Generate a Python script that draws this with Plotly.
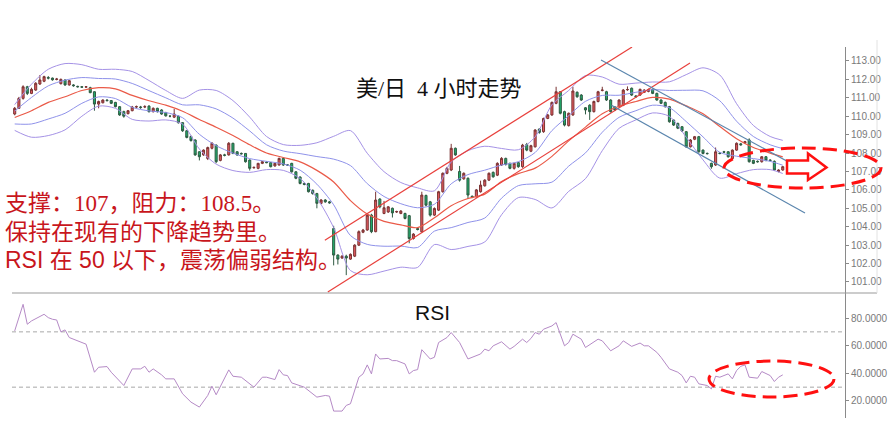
import plotly.graph_objects as go

W, H = 893, 445

# ---------------- data ----------------
candle_open = [
    110.12, 110.43, 110.97, 111.60, 111.24, 111.42, 111.75, 111.90, 112.10, 112.07,
    112.00, 111.77, 111.97, 111.70, 111.70, 111.62, 111.60, 111.58, 111.55, 111.33,
    110.66, 110.73, 110.88, 110.85, 110.75, 110.52, 110.25, 110.14, 110.30, 110.50,
    110.50, 110.50, 110.55, 110.25, 110.43, 110.34, 110.20, 110.00, 109.95, 110.00,
    109.65, 109.21, 108.90, 108.71, 108.07, 107.90, 107.70, 108.26, 108.43, 107.60,
    107.90, 107.90, 108.53, 108.07, 107.98, 107.98, 107.62, 107.20, 107.17, 107.44,
    107.50, 107.48, 107.30, 107.35, 107.71, 107.35, 107.44, 106.98, 106.70, 106.35,
    106.35, 105.98, 105.80, 105.27, 105.45, 105.35, 103.90, 102.46, 102.30, 102.40,
    102.24, 102.40, 103.00, 103.70, 103.82, 104.63, 103.73, 105.50, 104.72, 104.80,
    105.00, 104.80, 104.72, 104.72, 104.60, 103.36, 103.90, 103.72, 105.70, 105.35,
    104.63, 104.90, 105.90, 106.90, 107.08, 108.26, 107.00, 106.60, 106.63, 105.65,
    105.63, 105.90, 106.22, 106.53, 106.95, 106.80, 107.35, 107.71, 107.44, 107.17,
    107.48, 107.26, 108.46, 108.10, 108.34, 109.30, 109.16, 109.88, 110.07, 110.70,
    111.33, 110.25, 109.49, 110.07, 111.30, 111.15, 110.46, 110.60, 110.25, 110.80,
    111.40, 111.33, 110.88, 110.50, 110.52, 110.60, 111.44, 111.52, 111.10, 111.15,
    111.30, 111.35, 111.46, 111.24, 110.88, 110.75, 110.52, 109.79, 109.61, 109.43,
    109.16, 108.34, 108.75, 108.89, 108.16, 107.98, 107.44, 107.35, 108.00, 108.07,
    108.07, 107.70, 108.16, 108.50, 108.55, 108.71, 107.60, 107.55, 107.53, 107.80,
    107.62, 107.55, 107.00, 107.08]

candle_close = [
    110.43, 110.97, 111.60, 111.24, 111.46, 111.79, 111.97, 112.15, 112.07, 111.98,
    112.02, 112.00, 111.70, 111.93, 111.66, 111.60, 111.58, 111.60, 111.28, 110.66,
    110.80, 110.88, 110.85, 110.70, 110.52, 110.07, 110.00, 110.30, 110.50, 110.52,
    110.48, 110.52, 110.25, 110.43, 110.25, 110.12, 110.02, 110.00, 110.12, 109.65,
    109.21, 108.85, 108.68, 107.90, 107.80, 108.16, 108.30, 108.53, 107.53, 107.90,
    107.88, 108.53, 107.98, 107.90, 107.96, 107.53, 107.17, 107.22, 107.44, 107.53,
    107.48, 107.26, 107.44, 107.71, 107.35, 107.35, 106.98, 106.63, 106.35, 106.30,
    105.90, 105.80, 105.27, 105.45, 105.35, 105.30, 102.46, 102.24, 102.40, 102.30,
    102.50, 103.00, 103.73, 103.82, 104.63, 103.73, 105.45, 105.08, 105.03, 105.08,
    104.75, 104.82, 104.85, 104.45, 103.36, 103.60, 103.85, 105.72, 105.17, 104.63,
    104.99, 105.90, 106.90, 107.17, 108.26, 107.90, 106.53, 106.90, 105.72, 105.60,
    106.00, 106.26, 106.53, 106.90, 106.71, 107.44, 107.71, 107.38, 107.17, 107.44,
    107.26, 108.43, 108.16, 108.40, 109.25, 109.12, 109.88, 110.07, 110.75, 111.33,
    110.16, 109.52, 110.16, 111.37, 111.06, 110.88, 110.34, 110.25, 110.80, 111.33,
    111.42, 110.88, 110.25, 110.34, 110.88, 111.42, 111.45, 111.15, 111.06, 111.46,
    111.42, 111.45, 111.24, 110.88, 110.70, 110.52, 109.70, 109.52, 109.35, 109.20,
    108.34, 108.71, 108.89, 108.07, 107.98, 107.97, 107.26, 108.07, 107.98, 108.05,
    107.80, 108.16, 108.53, 108.45, 108.62, 107.53, 107.44, 107.53, 107.80, 107.60,
    107.60, 107.08, 107.08, 107.26]

candle_high = [
    110.50, 111.05, 111.68, 111.65, 111.55, 111.85, 112.24, 112.20, 112.18, 112.10,
    112.08, 112.05, 112.00, 111.97, 111.74, 111.66, 111.63, 111.64, 111.60, 111.35,
    110.85, 110.92, 110.92, 110.88, 110.78, 110.55, 110.30, 110.34, 110.56, 110.58,
    110.56, 110.60, 110.60, 110.48, 110.46, 110.38, 110.24, 110.06, 110.40, 110.04,
    109.68, 109.25, 108.95, 108.75, 108.10, 108.20, 108.35, 108.60, 108.47, 107.95,
    107.96, 108.60, 108.56, 108.10, 108.03, 108.00, 107.65, 107.27, 107.47, 107.57,
    107.55, 107.52, 107.48, 107.75, 107.74, 107.40, 107.47, 107.02, 106.73, 106.40,
    106.38, 106.02, 105.84, 105.50, 105.50, 105.40, 104.05, 102.50, 102.46, 102.48,
    102.55, 103.05, 103.80, 103.88, 104.68, 104.70, 105.90, 105.55, 105.40, 105.12,
    105.04, 104.87, 104.90, 104.76, 104.64, 103.65, 103.96, 105.90, 105.74, 105.40,
    105.05, 105.95, 106.95, 107.25, 108.50, 108.30, 107.30, 106.95, 106.68, 105.70,
    106.05, 106.50, 106.58, 106.95, 107.00, 107.50, 107.78, 107.75, 107.48, 107.48,
    107.52, 108.50, 108.55, 108.45, 109.30, 109.35, 109.92, 110.12, 110.80, 111.60,
    111.37, 110.30, 110.20, 111.60, 111.35, 111.20, 110.50, 110.65, 110.85, 111.38,
    111.60, 111.38, 110.92, 110.55, 110.92, 111.48, 111.62, 111.56, 111.15, 111.50,
    111.47, 111.50, 111.50, 111.28, 110.92, 110.80, 110.56, 109.83, 109.65, 109.47,
    109.20, 108.76, 108.93, 108.93, 108.20, 108.03, 107.48, 108.30, 108.05, 108.12,
    108.10, 108.20, 108.58, 108.55, 108.66, 108.80, 107.64, 107.60, 107.84, 107.84,
    107.66, 107.60, 107.12, 107.30]

candle_low = [
    110.05, 110.40, 110.90, 111.15, 111.20, 111.38, 111.70, 111.85, 112.00, 111.93,
    111.95, 111.72, 111.65, 111.66, 111.60, 111.56, 111.55, 111.55, 111.25, 110.30,
    110.43, 110.70, 110.80, 110.66, 110.48, 110.02, 109.92, 110.10, 110.27, 110.42,
    110.40, 110.44, 110.20, 110.20, 110.20, 110.08, 109.98, 109.94, 109.90, 109.60,
    109.15, 108.80, 108.62, 107.85, 107.60, 107.85, 107.62, 108.20, 107.45, 107.55,
    107.82, 107.86, 107.94, 107.85, 107.92, 107.48, 107.05, 107.15, 107.12, 107.40,
    107.45, 107.22, 107.26, 107.32, 107.30, 107.30, 106.94, 106.58, 106.30, 106.25,
    105.86, 105.74, 105.00, 105.22, 105.30, 105.25, 101.90, 101.95, 102.25, 101.37,
    102.20, 102.35, 102.95, 103.65, 103.78, 103.65, 103.70, 105.00, 104.68, 104.75,
    104.50, 104.75, 104.68, 104.40, 103.10, 103.30, 103.80, 103.68, 105.10, 104.55,
    104.58, 104.85, 105.85, 106.85, 107.02, 107.85, 106.45, 106.55, 105.50, 105.55,
    105.58, 105.85, 106.18, 106.48, 106.66, 106.75, 107.30, 107.32, 107.12, 107.10,
    107.20, 107.20, 108.10, 108.05, 108.30, 109.05, 109.10, 109.84, 110.02, 110.65,
    110.10, 109.45, 109.44, 110.02, 111.00, 110.83, 110.10, 109.80, 110.20, 110.75,
    111.35, 110.83, 110.20, 110.28, 110.47, 110.55, 111.38, 111.10, 111.00, 111.10,
    111.26, 111.30, 111.20, 110.84, 110.66, 110.47, 109.65, 109.47, 109.30, 109.15,
    108.28, 108.30, 108.70, 108.02, 107.93, 107.92, 107.15, 107.30, 107.93, 108.00,
    107.75, 107.65, 108.12, 108.40, 108.50, 107.48, 107.40, 107.48, 107.48, 107.55,
    107.55, 107.03, 106.95, 107.04]

# Moving average and Bollinger band lines, read at every 4th bar
band_idx = [0, 4, 8, 12, 16, 20, 24, 28, 32, 36, 40, 44, 48, 52, 56, 60, 64, 68, 72, 76,
            80, 84, 88, 92, 96, 100, 104, 108, 112, 116, 120, 124, 128, 132, 136, 140,
            144, 148, 152, 156, 160, 164, 168, 172, 176, 180, 183]
ma20 = [109.93, 110.30, 110.75, 111.06, 111.40, 111.55, 111.49, 111.13, 110.84, 110.60,
        110.27, 109.82, 109.40, 108.95, 108.45, 108.00, 107.76, 107.52, 107.06, 106.43,
        105.42, 104.69, 104.29, 104.10, 103.95, 104.49, 105.14, 105.53, 105.77, 106.45,
        106.88, 107.18, 107.82, 108.66, 109.41, 110.13, 110.54, 110.80, 111.02, 110.93,
        110.56, 110.13, 109.44, 108.78, 108.30, 108.00, 107.79]
bb_upper2 = [110.63, 111.74, 112.55, 112.86, 112.80, 112.55, 112.55, 112.43, 111.94, 111.40,
             110.97, 111.42, 111.40, 110.85, 109.95, 108.90, 108.46, 108.42, 108.56, 108.91,
             109.22, 107.99, 106.99, 106.40, 106.11, 105.95, 107.52, 108.13, 108.37, 108.25,
             108.18, 108.88, 110.62, 111.40, 112.21, 112.13, 111.74, 111.80, 111.86, 111.87,
             112.26, 112.63, 112.24, 110.68, 109.50, 108.90, 108.69]
bb_upper1 = [110.28, 111.02, 111.65, 111.96, 112.10, 112.05, 112.02, 111.78, 111.39, 111.00,
             110.62, 110.62, 110.40, 109.90, 109.20, 108.45, 108.11, 107.97, 107.81, 107.67,
             107.32, 106.34, 105.64, 105.25, 105.03, 105.22, 106.33, 106.83, 107.07, 107.35,
             107.53, 108.03, 109.22, 110.03, 110.81, 111.13, 111.14, 111.30, 111.44, 111.40,
             111.41, 111.38, 110.84, 109.73, 108.90, 108.45, 108.24]
bb_lower1 = [109.58, 109.58, 109.85, 110.16, 110.70, 111.05, 110.96, 110.48, 110.29, 110.20,
             109.92, 109.02, 108.40, 108.00, 107.70, 107.55, 107.41, 107.07, 106.31, 105.19,
             103.52, 103.04, 102.94, 102.95, 102.87, 103.76, 103.95, 104.23, 104.47, 105.55,
             106.23, 106.33, 106.42, 107.29, 108.01, 109.13, 109.94, 110.30, 110.60, 110.46,
             109.71, 108.88, 108.04, 107.83, 107.70, 107.55, 107.34]
bb_lower2 = [109.23, 108.86, 108.95, 109.26, 110.00, 110.55, 110.43, 109.83, 109.74, 109.80,
             109.57, 108.22, 107.40, 107.05, 106.95, 107.10, 107.06, 106.62, 105.56, 103.95,
             101.62, 101.39, 101.59, 101.80, 101.79, 103.03, 102.76, 102.93, 103.17, 104.65,
             105.58, 105.48, 105.02, 105.92, 106.61, 108.13, 109.34, 109.80, 110.18, 109.99,
             108.86, 107.63, 106.64, 106.88, 107.10, 107.10, 106.89]

# Hand-drawn trend channels (bar index, price)
up_channel_top_x, up_channel_top_y = [73.9, 147.1], [103.27, 113.76]
up_channel_bot_x, up_channel_bot_y = [74.6, 160.9], [100.45, 112.89]
down_channel_top_x, down_channel_top_y = [139.7, 187.1], [113.05, 107.18]
down_channel_bot_x, down_channel_bot_y = [142.2, 188.3], [110.60, 104.74]

rsi_idx = [0, 2, 3, 4, 7, 8, 9, 10, 11, 12, 13, 15, 17, 19, 20, 22, 23, 26, 28, 30,
           31, 32, 33, 35, 36, 38, 40, 42, 44, 46, 47, 48, 49, 51, 52, 54, 57, 59, 60, 62,
           63, 64, 65, 66, 69, 71, 72, 74, 75, 76, 78, 79, 80, 82, 83, 84, 85, 86, 87, 89,
           90, 91, 93, 94, 95, 96, 97, 99, 100, 101, 103, 104, 106, 108, 111, 112, 113, 114, 116, 118,
           119, 121, 122, 123, 124, 125, 126, 128, 129, 131, 132, 133, 135, 136, 139, 140, 142, 144, 145, 147,
           149, 150, 151, 153, 154, 156, 158, 159, 160, 161, 162, 163, 165, 166, 167, 168, 170, 171, 172, 173,
           174, 175, 177, 178, 180, 181, 182, 183]
rsi_val = [70.7, 89.9, 75.5, 77.9, 82.7, 80.3, 79.1, 78.6, 70.0, 71.4,
           65.9, 63.5, 61.1, 40.8, 44.4, 44.9, 40.8, 31.2, 43.2, 43.2,
           45.1, 40.8, 43.2, 38.9, 36.0, 36.0, 25.2, 19.2, 15.6, 24.0,
           30.7, 24.5, 30.7, 42.5, 37.9, 37.2, 30.0, 37.2, 37.2, 35.5,
           42.7, 38.9, 38.4, 33.1, 30.0, 25.2, 22.8, 24.0, 23.5, 12.7,
           12.7, 16.8, 18.0, 37.2, 39.6, 46.1, 39.6, 54.0, 50.4, 50.8,
           49.2, 49.2, 46.8, 39.6, 42.0, 42.7, 57.1, 50.4, 51.6, 62.3,
           65.9, 69.5, 62.3, 50.4, 54.0, 57.5, 56.3, 59.9, 62.8, 57.5,
           59.5, 64.7, 62.3, 65.2, 69.5, 68.3, 71.9, 74.3, 76.7, 59.9,
           62.3, 68.3, 64.7, 58.7, 64.7, 63.5, 56.3, 59.9, 63.5, 59.5,
           61.9, 59.9, 59.9, 55.2, 51.6, 43.2, 40.8, 38.4, 33.1, 37.9,
           37.2, 32.4, 31.2, 28.8, 37.9, 37.2, 39.6, 36.0, 42.0, 45.1,
           46.1, 37.2, 36.5, 41.3, 38.4, 34.1, 37.2, 38.9]
rsi_levels = [70, 30]

price_ticks = [101, 102, 103, 104, 105, 106, 107, 108, 109, 110, 111, 112, 113]
rsi_ticks = [20, 40, 60, 80]

# ---------------- figure ----------------
def px(x):
    return x / W


def py(y):
    return 1 - y / H


bars = list(range(len(candle_close)))

fig = go.Figure()

band_styles = [
    (bb_upper2, "#a592e6"), (bb_upper1, "#8f92ea"),
    (bb_lower1, "#8f92ea"), (bb_lower2, "#a592e6"),
]
for vals, col in band_styles:
    fig.add_trace(go.Scatter(x=band_idx, y=vals, mode="lines",
                             line=dict(color=col, width=1, shape="spline", smoothing=0.8),
                             hoverinfo="skip", xaxis="x", yaxis="y"))
fig.add_trace(go.Scatter(x=band_idx, y=ma20, mode="lines",
                         line=dict(color="#ea5a48", width=1.2, shape="spline", smoothing=0.8),
                         hoverinfo="skip", xaxis="x", yaxis="y"))

for xs, ys, col in [
    (up_channel_top_x, up_channel_top_y, "#e8403c"),
    (up_channel_bot_x, up_channel_bot_y, "#e8403c"),
    (down_channel_top_x, down_channel_top_y, "#5b86ae"),
    (down_channel_bot_x, down_channel_bot_y, "#5b86ae"),
]:
    fig.add_trace(go.Scatter(x=xs, y=ys, mode="lines", line=dict(color=col, width=1.2),
                             hoverinfo="skip", xaxis="x", yaxis="y"))

fig.add_trace(go.Candlestick(
    x=bars, open=candle_open, high=candle_high, low=candle_low, close=candle_close,
    increasing=dict(line=dict(color="#7a3434", width=1), fillcolor="#e4585e"),
    decreasing=dict(line=dict(color="#2f5a42", width=1), fillcolor="#1fae6c"),
    whiskerwidth=0, xaxis="x", yaxis="y", hoverinfo="skip"))

fig.add_trace(go.Scatter(x=rsi_idx, y=rsi_val, mode="lines",
                         line=dict(color="#b58ac6", width=1),
                         hoverinfo="skip", xaxis="x", yaxis="y2"))

x_lo = (12 - 14.7) / 4.197
x_hi = (845 - 14.7) / 4.197

tickfont = dict(family="Liberation Sans, Arial, sans-serif", size=10, color="#7a7a7a")

shapes = [
    dict(type="line", xref="paper", yref="paper", x0=px(12), x1=px(877), y0=py(293), y1=py(293),
         line=dict(color="#9a9a9a", width=1.2), layer="above"),
    dict(type="line", xref="paper", yref="paper", x0=px(877), x1=px(877), y0=py(40), y1=py(293),
         line=dict(color="#e2e2e2", width=1), layer="above"),
]
for lv in rsi_levels:
    shapes.append(dict(type="line", xref="paper", yref="y2", x0=px(12), x1=px(845), y0=lv, y1=lv,
                       line=dict(color="#a8a8a8", width=1, dash="4px,3px"), layer="below"))
shapes += [
    dict(type="circle", xref="paper", yref="paper", x0=px(724), x1=px(881), y0=py(188), y1=py(148),
         line=dict(color="#ff1010", width=3, dash="14px,7px"), layer="above"),
    dict(type="circle", xref="paper", yref="paper", x0=px(709), x1=px(834), y0=py(397), y1=py(361),
         line=dict(color="#ff1010", width=3, dash="14px,7px"), layer="above"),
]
arrow_pts = [(787, 160.5), (808, 160.5), (808, 153.5), (826.5, 167.5), (808, 180), (808, 173.5), (787, 173.5)]
path = "M " + " L ".join(f"{px(a):.5f},{py(b):.5f}" for a, b in arrow_pts) + " Z"
shapes.append(dict(type="path", xref="paper", yref="paper", path=path,
                   fillcolor="white", line=dict(color="#ff1010", width=2.5), layer="above"))

serif_cjk = "Liberation Serif, Noto Sans CJK SC, serif"
sans_cjk = "Liberation Sans, Noto Sans CJK SC, sans-serif"
red_txt = "#c8161c"

annotations = [
    dict(text="美/日\u00a0\u00a04 小时走势", x=px(439), y=py(89), xref="paper", yref="paper",
         xanchor="center", yanchor="middle", showarrow=False,
         font=dict(family=serif_cjk, size=22, color="#111111")),
    dict(text="支撑：107，阻力：108.5。", x=px(3), y=py(204), xref="paper", yref="paper",
         xanchor="left", yanchor="middle", showarrow=False,
         font=dict(family=serif_cjk, size=23, color=red_txt)),
    dict(text="保持在现有的下降趋势里。", x=px(3), y=py(232), xref="paper", yref="paper",
         xanchor="left", yanchor="middle", showarrow=False,
         font=dict(family=serif_cjk, size=23, color=red_txt)),
    dict(text="RSI 在 50 以下，震荡偏弱结构。", x=px(3), y=py(260), xref="paper", yref="paper",
         xanchor="left", yanchor="middle", showarrow=False,
         font=dict(family=sans_cjk, size=23, color=red_txt)),
    dict(text="RSI", x=px(432), y=py(312), xref="paper", yref="paper",
         xanchor="center", yanchor="middle", showarrow=False,
         font=dict(family="Liberation Sans, Arial, sans-serif", size=21, color="#111111")),
]

fig.update_layout(
    width=W, height=H,
    margin=dict(l=0, r=0, t=0, b=0),
    paper_bgcolor="white", plot_bgcolor="white",
    showlegend=False,
    xaxis=dict(domain=[px(12), px(845)], range=[x_lo, x_hi], visible=False,
               rangeslider=dict(visible=False), fixedrange=True),
    yaxis=dict(domain=[py(293), py(47)], range=[100.40, 113.76], side="right",
               tickvals=price_ticks, ticktext=[f"{v:.2f}" for v in price_ticks],
               ticks="outside", ticklen=3, tickcolor="#8a8a8a", tickfont=tickfont,
               showline=True, linecolor="#8a8a8a", linewidth=1,
               showgrid=False, zeroline=False, anchor="x", fixedrange=True),
    yaxis2=dict(domain=[py(418), py(293)], range=[7.7, 98.1], side="right",
                tickvals=rsi_ticks, ticktext=[f"{v:.4f}" for v in rsi_ticks],
                ticks="outside", ticklen=3, tickcolor="#8a8a8a", tickfont=tickfont,
                showline=True, linecolor="#8a8a8a", linewidth=1,
                showgrid=False, zeroline=False, anchor="x", fixedrange=True),
    shapes=shapes,
    annotations=annotations,
)

fig.write_html("out.html",
               config={"displayModeBar": False, "staticPlot": True},
               post_script="document.body.style.margin='0px';document.body.style.overflow='hidden';")
